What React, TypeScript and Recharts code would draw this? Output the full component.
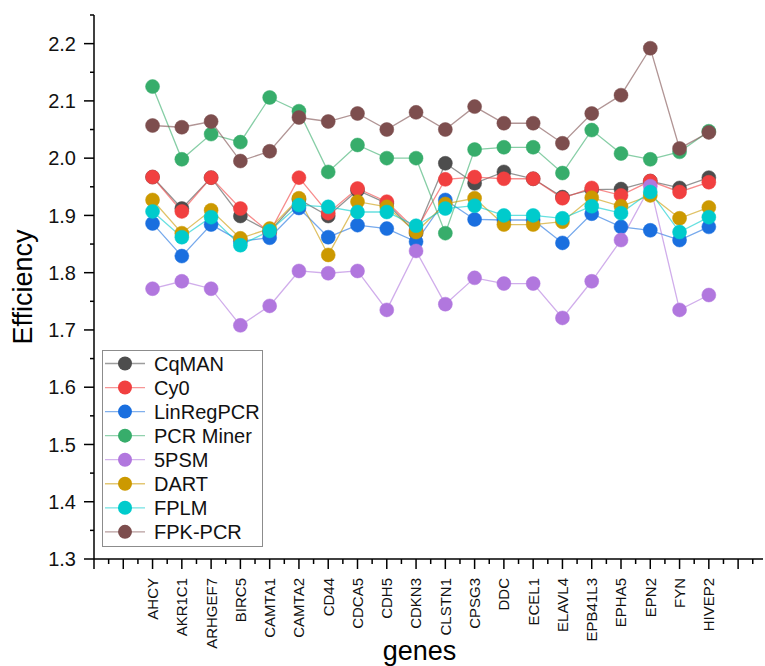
import React from 'react';
import { LineChart, Line, XAxis, YAxis, Legend, Label } from 'recharts';

const genes = [
  'AHCY', 'AKR1C1', 'ARHGEF7', 'BIRC5', 'CAMTA1', 'CAMTA2', 'CD44', 'CDCA5', 'CDH5', 'CDKN3',
  'CLSTN1', 'CPSG3', 'DDC', 'ECEL1', 'ELAVL4', 'EPB41L3', 'EPHA5', 'EPN2', 'FYN', 'HIVEP2',
];

const cqman = [1.967, 1.912, 1.966, 1.899, 1.872, 1.928, 1.899, 1.944, 1.921, 1.869,
  1.991, 1.956, 1.976, 1.964, 1.932, 1.945, 1.946, 1.96, 1.948, 1.966];
const cy0 = [1.967, 1.907, 1.966, 1.912, 1.87, 1.966, 1.904, 1.947, 1.924, 1.874,
  1.963, 1.967, 1.964, 1.964, 1.93, 1.948, 1.935, 1.96, 1.941, 1.958];
const linRegPcr = [1.886, 1.829, 1.884, 1.855, 1.861, 1.913, 1.862, 1.883, 1.877, 1.854,
  1.927, 1.893, 1.892, 1.892, 1.852, 1.903, 1.88, 1.874, 1.857, 1.88];
const pcrMiner = [2.125, 1.998, 2.042, 2.028, 2.106, 2.082, 1.976, 2.023, 2.0, 2.0,
  1.869, 2.015, 2.019, 2.019, 1.974, 2.049, 2.008, 1.998, 2.011, 2.047];
const psm5 = [1.772, 1.785, 1.772, 1.708, 1.742, 1.803, 1.799, 1.803, 1.735, 1.838,
  1.745, 1.791, 1.781, 1.781, 1.721, 1.785, 1.857, 1.951, 1.735, 1.761];
const dart = [1.927, 1.869, 1.909, 1.86, 1.877, 1.93, 1.831, 1.924, 1.915, 1.871,
  1.92, 1.93, 1.884, 1.884, 1.889, 1.931, 1.916, 1.935, 1.895, 1.914];
const fplm = [1.907, 1.862, 1.897, 1.848, 1.873, 1.918, 1.915, 1.906, 1.906, 1.882,
  1.912, 1.917, 1.9, 1.9, 1.895, 1.916, 1.904, 1.941, 1.871, 1.897];
const fpkPcr = [2.057, 2.054, 2.064, 1.995, 2.012, 2.071, 2.064, 2.078, 2.05, 2.08,
  2.05, 2.09, 2.061, 2.061, 2.026, 2.078, 2.11, 2.192, 2.017, 2.045];

const SERIES = [
  { name: 'CqMAN', values: cqman, color: '#4d4d4d' },
  { name: 'Cy0', values: cy0, color: '#f14040' },
  { name: 'LinRegPCR', values: linRegPcr, color: '#1a6fdf' },
  { name: 'PCR Miner', values: pcrMiner, color: '#37ad6b' },
  { name: '5PSM', values: psm5, color: '#b177de' },
  { name: 'DART', values: dart, color: '#cc9900' },
  { name: 'FPLM', values: fplm, color: '#00cbcc' },
  { name: 'FPK-PCR', values: fpkPcr, color: '#7d4e4e' },
];

const data = genes.map((g, i) => {
  const row: any = { idx: i, gene: g };
  SERIES.forEach(s => { row[s.name] = s.values[i]; });
  return row;
});

// half-step ticks: long ones on genes, short ones between
const xTicks: number[] = [];
for (let i = 0; i <= 45; i++) xTicks.push(-2 + i * 0.5);
const yTicks: number[] = [];
for (let i = 0; i <= 19; i++) yTicks.push(Math.round((1.3 + i * 0.05) * 100) / 100);

const GeneTick = ({ x, y, payload }: any) => {
  const v = payload.value;
  const major = Number.isInteger(v);
  const label = major && v >= 0 && v < genes.length ? genes[v] : '';
  const ty = y + 19;
  return (
    <g>
      <line x1={x} x2={x} y1={y} y2={y + (major ? 10 : 5)} stroke="#000" strokeWidth={1.5} />
      {label && (
        <text x={x} y={ty} transform={`rotate(-90 ${x} ${ty})`} textAnchor="end" dy="0.36em"
          fontSize={15} fill="#111">{label}</text>
      )}
    </g>
  );
};

const EffTick = ({ x, y, payload }: any) => {
  const v = payload.value;
  const major = Math.abs(v * 10 - Math.round(v * 10)) < 1e-6;
  return (
    <g>
      <line x1={x - (major ? 10 : 4)} x2={x} y1={y} y2={y} stroke="#000" strokeWidth={1.5} />
      {major && (
        <text x={x - 18} y={y} textAnchor="end" dy="0.36em" fontSize={20} fill="#111">{v.toFixed(1)}</text>
      )}
    </g>
  );
};

const LegendBox = () => (
  <svg width={161} height={197}>
    <rect x={0.5} y={0.5} width={160} height={196} fill="#fff" stroke="#8c8c8c" />
    {SERIES.map((s, i) => {
      const cy = 13.5 + i * 24.05;
      return (
        <g key={s.name}>
          <line x1={3} x2={43} y1={cy} y2={cy} stroke={s.color} strokeOpacity={0.55} strokeWidth={1.3} />
          <circle cx={23} cy={cy} r={7} fill={s.color} />
          <text x={52} y={cy} dy="0.36em" fontSize={20} fill="#111">{s.name}</text>
        </g>
      );
    })}
  </svg>
);

export default function App() {
  return (
    <div style={{ width: 765, height: 666, fontFamily: '"Liberation Sans", Arial, sans-serif', background: '#fff' }}>
      <style>{'body{margin:0}'}</style>
      <LineChart width={765} height={666} data={data} margin={{ top: 15, right: 2, left: 0, bottom: 0 }}>
        <XAxis dataKey="idx" type="number" domain={[-2, 20.85]} ticks={xTicks} interval={0}
          height={107} tickSize={0} tickMargin={0} tickLine={false} tick={<GeneTick />}
          axisLine={{ stroke: '#000', strokeWidth: 1.5 }} allowDataOverflow>
          <Label value="genes" position="insideBottom" offset={6} dx={-9} fontSize={27} fill="#000" />
        </XAxis>
        <YAxis type="number" domain={[1.3, 2.25]} ticks={yTicks} interval={0} width={94}
          tickSize={0} tickMargin={0} tickLine={false} tick={<EffTick />}
          axisLine={{ stroke: '#000', strokeWidth: 1.5 }} allowDataOverflow>
          <Label value="Efficiency" angle={-90} position="insideLeft" offset={22}
            style={{ textAnchor: 'middle' }} fontSize={27} fill="#000" />
        </YAxis>
        {SERIES.map(s => (
          <Line key={s.name} type="linear" dataKey={s.name} stroke={s.color} strokeOpacity={0.6}
            strokeWidth={1.3} dot={{ r: 7, fill: s.color, stroke: s.color, strokeWidth: 0.5, strokeOpacity: 1 }}
            activeDot={false} isAnimationActive={false} />
        ))}
        <Legend layout="vertical" align="center" verticalAlign="middle" content={<LegendBox />}
          wrapperStyle={{ left: 102, top: 350, width: 161, height: 197 }} />
      </LineChart>
    </div>
  );
}
